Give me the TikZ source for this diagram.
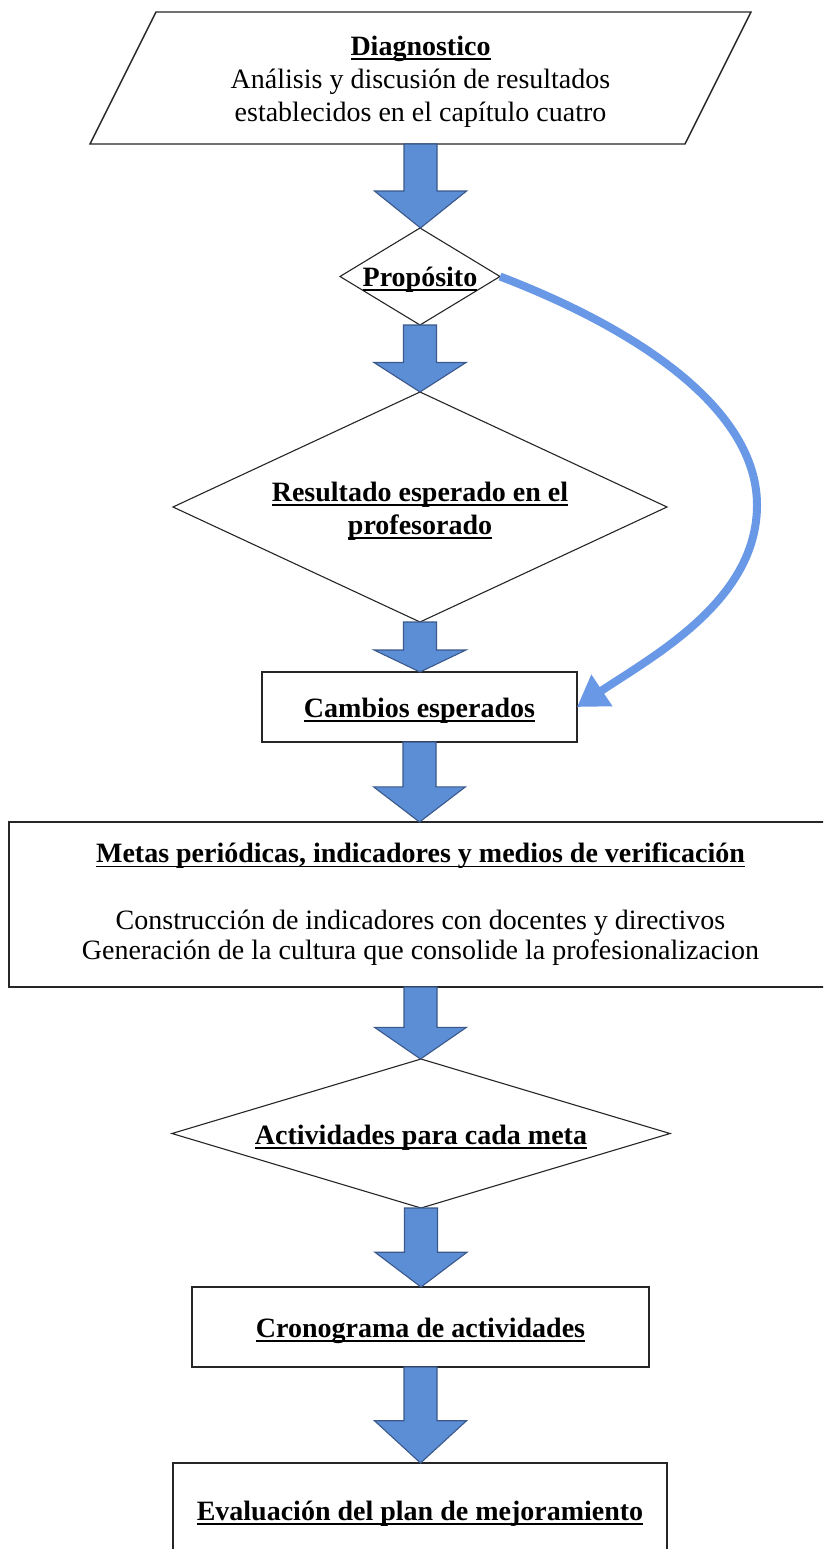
\documentclass[tikz,border=0pt]{standalone}
\usepackage{fontspec}
\setmainfont{Liberation Serif}
\usetikzlibrary{shapes.geometric,arrows.meta,calc}
\definecolor{blockfill}{RGB}{92,142,214}
\definecolor{blockline}{RGB}{58,88,138}
\definecolor{curveblue}{RGB}{104,152,230}
\newsavebox\ulbox
\newcommand\ulx[1]{\sbox\ulbox{#1}\rlap{\rule[-4.5pt]{\wd\ulbox}{1.8pt}}\usebox\ulbox}
\newcommand\blockarr[2]{%
  \draw[blockarrow] let \p1=(#1.center |- #1.south), \p2=(#1.center |- #2.north),
    \p3=($(\p1)!0.56!(\p2)$) in
    (\x1-16.5pt,\y1) -- (\x1+16.5pt,\y1) -- (\x1+16.5pt,\y3) -- (\x1+46pt,\y3)
    -- (\x2,\y2) -- (\x1-46pt,\y3) -- (\x1-16.5pt,\y3) -- cycle;}
\tikzset{
  base/.style={font=\fontsize{28}{33}\selectfont, outer sep=0pt, inner sep=0pt, align=center},
  box/.style={base, draw=black!85, line width=1.5pt, rectangle},
  dia/.style={base, draw=black!85, line width=1.1pt, diamond},
  pline/.style={draw=black!85, line width=1.4pt, line join=miter},
  ctext/.style={font=\fontsize{28}{33}\selectfont\bfseries, align=center, inner sep=0pt, yshift=-4pt},
  ptext/.style={font=\fontsize{28}{33}\selectfont, align=center, inner sep=0pt, yshift=-4pt},
  blockarrow/.style={fill=blockfill, draw=blockline, line width=1.1pt, line join=miter},
  curvearrow/.style={draw=curveblue, line width=8pt, -{Triangle[length=30pt,width=36pt]}}
}
\begin{document}
\begin{tikzpicture}[x=1pt,y=-1pt]
\useasboundingbox (0,0) rectangle (823,1549);
\clip (0,0) rectangle (823,1549);
\fill[white] (0,0) rectangle (823,1549);

% nodes
\node[base, minimum width=661pt, minimum height=132pt,
  label={[ptext]center:{{\bfseries\ulx{Diagnostico}}\\ Análisis y discusión de resultados\\ establecidos en el capítulo cuatro}}] (diag) at (420.5,78) {};
\draw[pline] ([xshift=66pt]diag.north west) -- (diag.north east)
  -- ([xshift=-66pt]diag.south east) -- (diag.south west) -- cycle;

\node[dia, minimum width=160pt, minimum height=97pt,
  label={[ctext,yshift=1pt]center:\ulx{Propósito}}] (prop) at (420,276.5) {};
\node[dia, minimum width=494pt, minimum height=230pt,
  label={[ctext]center:{\ulx{Resultado esperado en el}\\\ulx{profesorado}}}] (res) at (420,507) {};
\node[box, minimum width=315pt, minimum height=70pt,
  label={[ctext]center:\ulx{Cambios esperados}}] (camb) at (419.5,707) {};
\node[box, minimum width=823pt, minimum height=165pt,
  font=\fontsize{28}{30}\selectfont] (metas) at (420.5,904.5)
  {{\bfseries\ulx{Metas periódicas, indicadores y medios de verificación}}\\[37pt]
   Construcción de indicadores con docentes y directivos\\
   Generación de la cultura que consolide la profesionalizacion};
\node[dia, minimum width=498pt, minimum height=149pt,
  label={[ctext]center:\ulx{Actividades para cada meta}}] (act) at (421,1133.5) {};
\node[box, minimum width=457pt, minimum height=80pt,
  label={[ctext]center:\ulx{Cronograma de actividades}}] (cron) at (420.5,1327) {};
\node[box, minimum width=494pt, minimum height=94pt,
  label={[ctext]center:\ulx{Evaluación del plan de mejoramiento}}] (eval) at (420,1510) {};

% block arrows
\blockarr{diag}{prop}
\blockarr{prop}{res}
\blockarr{res}{camb}
\blockarr{camb}{metas}
\blockarr{metas}{act}
\blockarr{act}{cron}
\blockarr{cron}{eval}

% curved arrow
\draw[curvearrow] (prop.east) .. controls (640,330) and (757,410) .. (757,505)
  .. controls (757,600) and (655,655) .. (camb.east);
\end{tikzpicture}
\end{document}
